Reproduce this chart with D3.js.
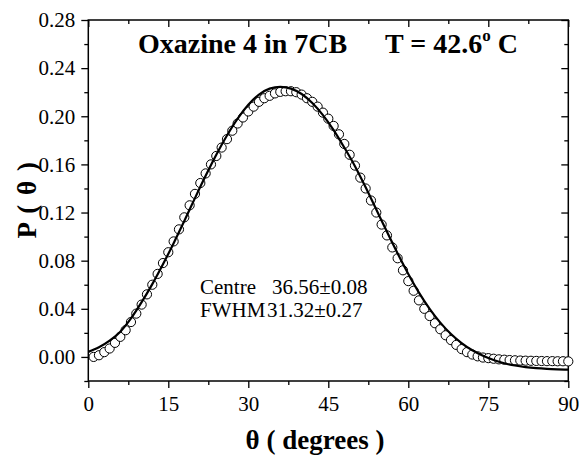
<!DOCTYPE html>
<html>
<head>
<meta charset="utf-8">
<script src="https://cdn.jsdelivr.net/npm/d3@7"></script>
</head>
<body style="margin:0">
<svg id="chart" width="579" height="457"></svg>
<script>
// Measured orientational distribution P(θ), one point per degree
const measuredAngles = d3.range(1, 91);
const measuredP = [
  0.0000, 0.0014, 0.0040, 0.0070, 0.0117, 0.0167, 0.0222, 0.0290, 0.0360, 0.0435,
  0.0520, 0.0600, 0.0690, 0.0780, 0.0870, 0.0960, 0.1060, 0.1160, 0.1260, 0.1355,
  0.1445, 0.1525, 0.1600, 0.1670, 0.1740, 0.1810, 0.1880, 0.1940, 0.1990, 0.2040,
  0.2080, 0.2120, 0.2150, 0.2170, 0.2190, 0.2203, 0.2208, 0.2208, 0.2200, 0.2180,
  0.2150, 0.2120, 0.2080, 0.2030, 0.1980, 0.1920, 0.1850, 0.1770, 0.1680, 0.1590,
  0.1490, 0.1400, 0.1300, 0.1200, 0.1100, 0.1010, 0.0910, 0.0820, 0.0720, 0.0630,
  0.0550, 0.0470, 0.0400, 0.0340, 0.0280, 0.0230, 0.0180, 0.0140, 0.0100, 0.0065,
  0.0040, 0.0020, 0.0005, -0.0005, -0.0010, -0.0015, -0.0020, -0.0023, -0.0026, -0.0028,
  -0.0030, -0.0031, -0.0032, -0.0033, -0.0034, -0.0035, -0.0035, -0.0036, -0.0036, -0.0037
];

// Gaussian fit curve, sampled every 2 degrees
const fitAngles = d3.range(0, 91, 2);
const fitP = [
  0.0042, 0.0080, 0.0135, 0.0210, 0.0320, 0.0455, 0.0605, 0.0770, 0.0945, 0.1130,
  0.1320, 0.1505, 0.1680, 0.1840, 0.1980, 0.2095, 0.2180, 0.2230, 0.2245, 0.2230,
  0.2185, 0.2110, 0.2010, 0.1885, 0.1740, 0.1585, 0.1410, 0.1225, 0.1040, 0.0860,
  0.0690, 0.0535, 0.0400, 0.0285, 0.0190, 0.0115, 0.0055, 0.0010, -0.0025, -0.0052,
  -0.0071, -0.0084, -0.0093, -0.0099, -0.0103, -0.0106
];

const xMajorTicks = [0, 15, 30, 45, 60, 75, 90];
const xMinorTicks = [7.5, 22.5, 37.5, 52.5, 67.5, 82.5];
const yMajorTicks = [0.00, 0.04, 0.08, 0.12, 0.16, 0.20, 0.24, 0.28];
const yMinorTicks = [-0.02, 0.02, 0.06, 0.10, 0.14, 0.18, 0.22, 0.26];

const titleText = "Oxazine 4 in 7CB";
const tempText = "T = 42.6";
const fitLabels = ["Centre", "FWHM"];
const fitValues = ["36.56\u00B10.08", "31.32\u00B10.27"];

const SERIF = "Liberation Serif";

const svg = d3.select("#chart");
const plot = { left: 88.3, right: 568.3, top: 20, bottom: 381 };

const x = d3.scaleLinear().domain([0, 90]).range([plot.left, plot.right]);
const y = d3.scaleLinear().domain([-0.02, 0.28]).range([plot.bottom, plot.top]);

const fmtY = d3.format(".2f");

function styleAxis(g) {
  g.attr("font-family", SERIF).attr("font-size", 21);
  g.selectAll(".domain").remove();
  g.selectAll("line").attr("stroke", "#000").attr("stroke-width", 1.3);
  g.selectAll("text").attr("fill", "#000");
}

// Bottom axis: ticks outward
svg.append("g").attr("transform", `translate(0,${plot.bottom})`)
  .call(d3.axisBottom(x).tickValues(xMajorTicks).tickSize(7).tickPadding(8).tickFormat(d3.format("d")))
  .call(styleAxis);
svg.append("g").attr("transform", `translate(0,${plot.bottom})`)
  .call(d3.axisBottom(x).tickValues(xMinorTicks).tickSize(4).tickFormat(""))
  .call(styleAxis);

// Left axis: ticks outward
svg.append("g").attr("transform", `translate(${plot.left},0)`)
  .call(d3.axisLeft(y).tickValues(yMajorTicks).tickSize(7).tickPadding(6).tickFormat(fmtY))
  .call(styleAxis);
svg.append("g").attr("transform", `translate(${plot.left},0)`)
  .call(d3.axisLeft(y).tickValues(yMinorTicks).tickSize(4).tickFormat(""))
  .call(styleAxis);

// Top axis: ticks inward
svg.append("g").attr("transform", `translate(0,${plot.top})`)
  .call(d3.axisBottom(x).tickValues(xMajorTicks).tickSize(7).tickFormat(""))
  .call(styleAxis);
svg.append("g").attr("transform", `translate(0,${plot.top})`)
  .call(d3.axisBottom(x).tickValues(xMinorTicks).tickSize(4).tickFormat(""))
  .call(styleAxis);

// Right axis: ticks inward
svg.append("g").attr("transform", `translate(${plot.right},0)`)
  .call(d3.axisLeft(y).tickValues(yMajorTicks).tickSize(7).tickFormat(""))
  .call(styleAxis);
svg.append("g").attr("transform", `translate(${plot.right},0)`)
  .call(d3.axisLeft(y).tickValues(yMinorTicks).tickSize(4).tickFormat(""))
  .call(styleAxis);

// Frame
svg.append("rect")
  .attr("x", plot.left).attr("y", plot.top)
  .attr("width", plot.right - plot.left).attr("height", plot.bottom - plot.top)
  .attr("fill", "none").attr("stroke", "#000").attr("stroke-width", 1.5);

// Measured points: open circles, white filled, drawn left to right
svg.append("g").selectAll("circle")
  .data(measuredAngles.map((a, i) => [a, measuredP[i]]))
  .join("circle")
  .attr("cx", d => x(d[0]))
  .attr("cy", d => y(d[1]))
  .attr("r", 4.6)
  .attr("fill", "#fff")
  .attr("stroke", "#000")
  .attr("stroke-width", 1);

// Fit curve
const line = d3.line()
  .x(d => x(d[0]))
  .y(d => y(d[1]))
  .curve(d3.curveMonotoneX);
svg.append("path")
  .datum(fitAngles.map((a, i) => [a, fitP[i]]))
  .attr("d", line)
  .attr("fill", "none")
  .attr("stroke", "#000")
  .attr("stroke-width", 2.2);

function addText(px, py, size, weight) {
  return svg.append("text")
    .attr("x", px).attr("y", py)
    .attr("fill", "#000")
    .attr("font-family", SERIF)
    .attr("font-size", size)
    .attr("font-weight", weight || "normal");
}

// Title
addText(138, 53, 28, "bold").text(titleText);
const temp = addText(385, 53, 28, "bold");
temp.append("tspan").text(tempText);
temp.append("tspan").attr("dy", -12).attr("font-size", 17).text("o");
temp.append("tspan").attr("dy", 12).text(" C");

// Fit results
addText(200, 294, 21).text(fitLabels[0]);
addText(272, 294, 21).text(fitValues[0]);
addText(200, 317, 21).text(fitLabels[1]);
addText(267, 317, 21).text(fitValues[1]);

// Axis titles
addText(315, 449, 27, "bold").attr("text-anchor", "middle").text("\u03B8 ( degrees )");

addText(0, 0, 27, "bold")
  .attr("text-anchor", "middle")
  .attr("letter-spacing", 1.5)
  .attr("transform", `translate(36,${(plot.top + plot.bottom) / 2 - 1}) rotate(-90)`)
  .text("P ( \u03B8 )");
</script>
</body>
</html>
